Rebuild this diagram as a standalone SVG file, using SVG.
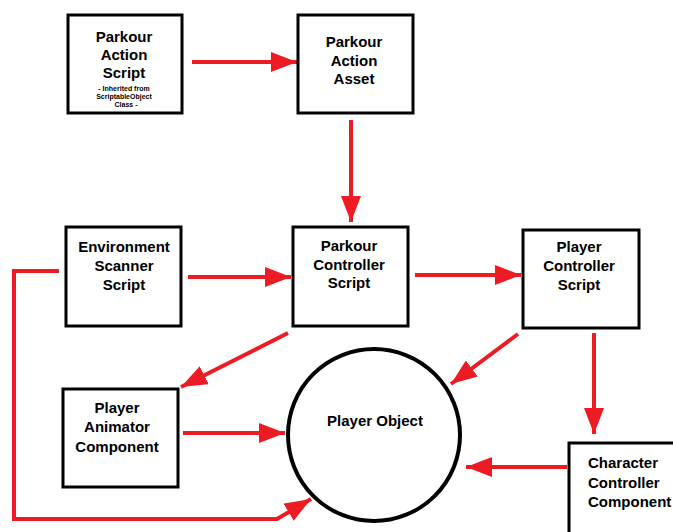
<svg xmlns="http://www.w3.org/2000/svg" width="673" height="532" viewBox="0 0 673 532">
  <style>
    .box { fill: #ffffff; stroke: #000000; stroke-width: 3; }
    .circ { fill: #ffffff; stroke: #000000; stroke-width: 4; }
    .lbl { font-family: "Liberation Sans", Arial, sans-serif; font-weight: bold; font-size: 15px; fill: #000000; text-anchor: middle; }
    .left { text-anchor: start; }
    .small { font-family: "Liberation Sans", Arial, sans-serif; font-weight: bold; font-size: 7px; fill: #000000; text-anchor: middle; }
    .wire { fill: none; stroke: #ed1c24; stroke-width: 4; }
  </style>
  <defs>
    <marker id="head" viewBox="0 0 26 20" refX="26" refY="10" markerWidth="26" markerHeight="20" markerUnits="userSpaceOnUse" orient="auto">
      <path d="M0,0 L26,10 L0,20 Z" fill="#ed1c24"/>
    </marker>
  </defs>
  <rect width="673" height="532" fill="#ffffff"/>

  <g id="connectors">
    <line class="wire" x1="192" y1="62" x2="297" y2="62" marker-end="url(#head)"/>
    <line class="wire" x1="351" y1="120" x2="351" y2="222" marker-end="url(#head)"/>
    <line class="wire" x1="188" y1="277" x2="291" y2="277" marker-end="url(#head)"/>
    <line class="wire" x1="415" y1="275" x2="521" y2="275" marker-end="url(#head)"/>
    <line class="wire" x1="288" y1="333" x2="181" y2="387" marker-end="url(#head)"/>
    <line class="wire" x1="518" y1="334" x2="451" y2="384" marker-end="url(#head)"/>
    <line class="wire" x1="594" y1="333" x2="594" y2="434" marker-end="url(#head)"/>
    <line class="wire" x1="567" y1="467" x2="466" y2="467" marker-end="url(#head)"/>
    <line class="wire" x1="183" y1="433" x2="285" y2="433" marker-end="url(#head)"/>
    <polyline class="wire" points="59,271 14,271 14,519 277,519 311,499" marker-end="url(#head)"/>
  </g>

  <g id="parkour-action-script">
    <rect class="box" x="68" y="15" width="114" height="98"/>
    <text class="lbl" x="124" y="42">Parkour</text>
    <text class="lbl" x="124" y="60">Action</text>
    <text class="lbl" x="124" y="78">Script</text>
    <text class="small" x="124" y="91">- Inherited from</text>
    <text class="small" x="124" y="99">ScriptableObject</text>
    <text class="small" x="126" y="107">Class -</text>
  </g>

  <g id="parkour-action-asset">
    <rect class="box" x="298" y="15" width="115" height="98"/>
    <text class="lbl" x="354" y="47">Parkour</text>
    <text class="lbl" x="354" y="66">Action</text>
    <text class="lbl" x="354" y="84">Asset</text>
  </g>

  <g id="environment-scanner-script">
    <rect class="box" x="66" y="227" width="115" height="99"/>
    <text class="lbl" x="124" y="252">Environment</text>
    <text class="lbl" x="124" y="271">Scanner</text>
    <text class="lbl" x="124" y="290">Script</text>
  </g>

  <g id="parkour-controller-script">
    <rect class="box" x="293" y="227" width="115" height="99"/>
    <text class="lbl" x="349" y="251">Parkour</text>
    <text class="lbl" x="349" y="270">Controller</text>
    <text class="lbl" x="349" y="288">Script</text>
  </g>

  <g id="player-controller-script">
    <rect class="box" x="523" y="230" width="116" height="98"/>
    <text class="lbl" x="579" y="252">Player</text>
    <text class="lbl" x="579" y="271">Controller</text>
    <text class="lbl" x="579" y="290">Script</text>
  </g>

  <g id="player-animator-component">
    <rect class="box" x="63" y="389" width="115" height="98"/>
    <text class="lbl" x="117" y="413">Player</text>
    <text class="lbl" x="117" y="432">Animator</text>
    <text class="lbl" x="117" y="452">Component</text>
  </g>

  <g id="character-controller-component">
    <rect class="box" x="569" y="443" width="120" height="100"/>
    <text class="lbl left" x="588" y="468">Character</text>
    <text class="lbl left" x="588" y="488">Controller</text>
    <text class="lbl left" x="588" y="507">Component</text>
  </g>

  <g id="player-object">
    <circle class="circ" cx="374" cy="435" r="86"/>
    <text class="lbl" x="375" y="426">Player Object</text>
  </g>
</svg>
